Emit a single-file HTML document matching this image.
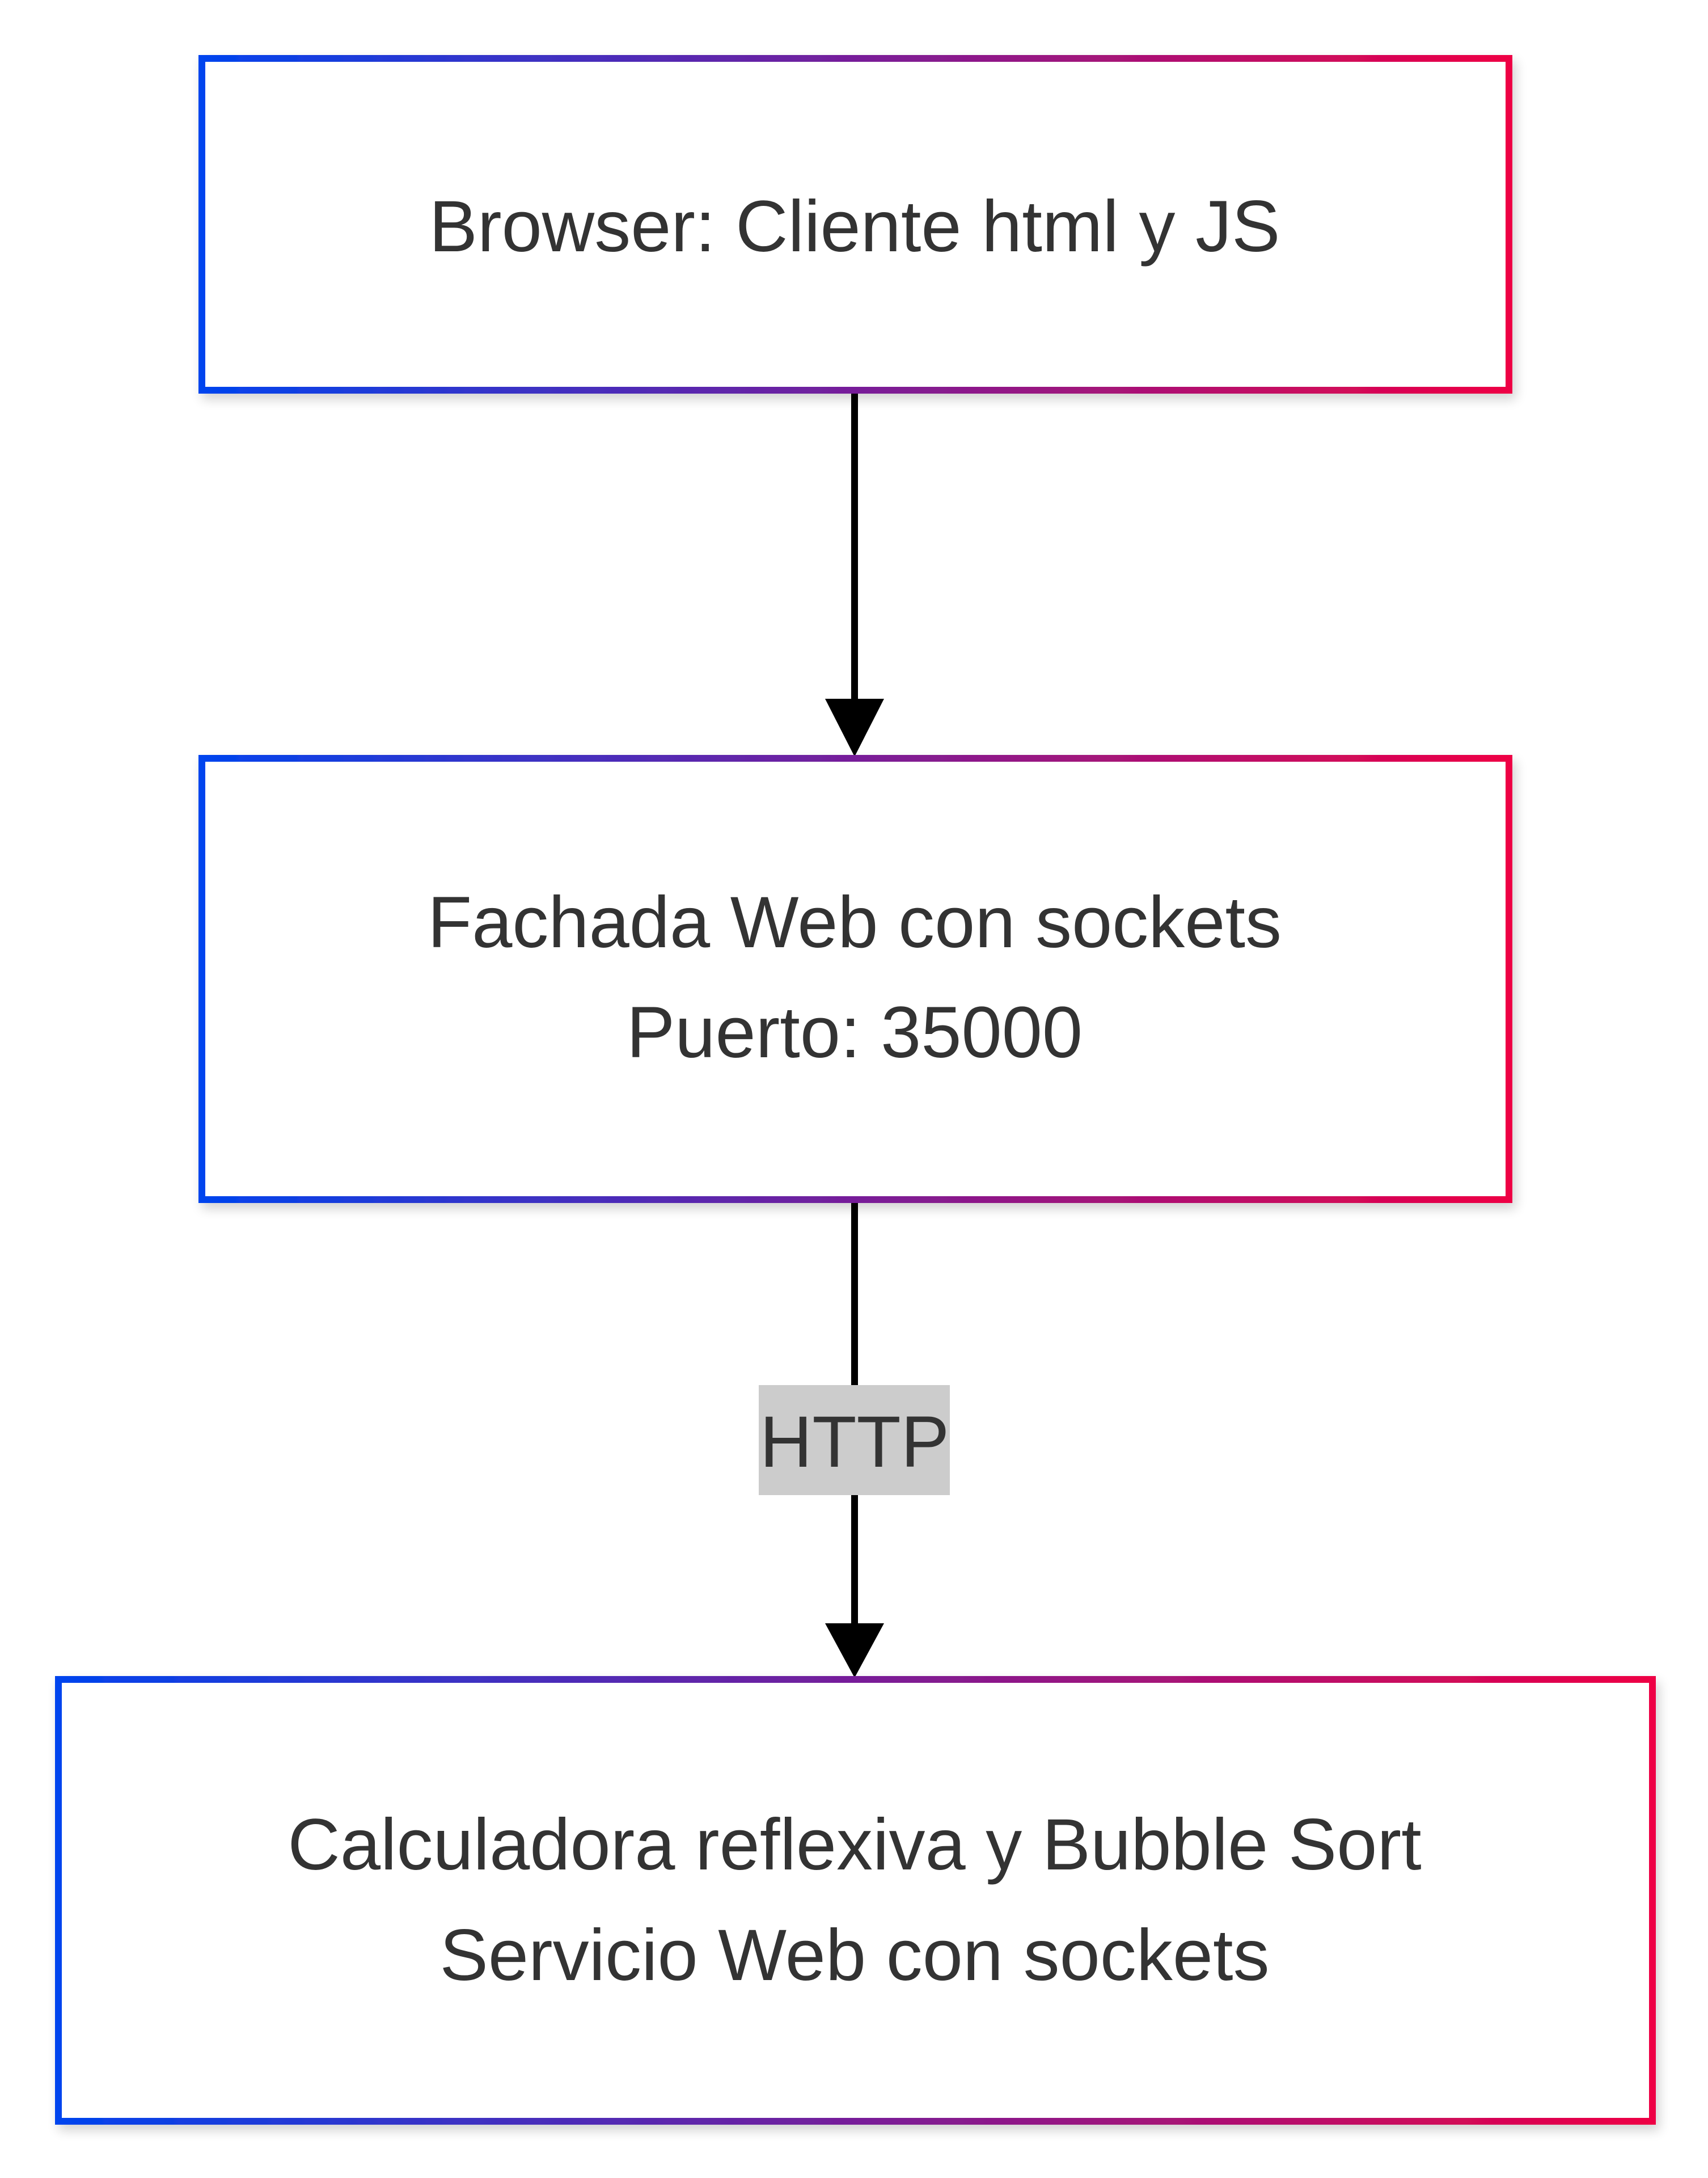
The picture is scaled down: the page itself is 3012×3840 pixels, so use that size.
<!DOCTYPE html>
<html><head><meta charset="utf-8"><style>
html,body{margin:0;padding:0;background:#fff;}
svg{display:block;}
text{font-family:"Liberation Sans",Arial,sans-serif;fill:#333;font-size:128px;}
</style></head><body>
<svg width="3012" height="3840" viewBox="0 0 3012 3840" xmlns="http://www.w3.org/2000/svg">
<defs>
<linearGradient id="g" x1="0" y1="0" x2="1" y2="0">
<stop offset="0" stop-color="#0044ee"/>
<stop offset="0.5" stop-color="#771e99"/>
<stop offset="1" stop-color="#ee0044"/>
</linearGradient>
<filter id="sh" x="-10%" y="-10%" width="120%" height="130%">
<feGaussianBlur in="SourceAlpha" stdDeviation="10"/>
<feOffset dx="6" dy="10"/>
<feComponentTransfer><feFuncA type="linear" slope="0.18"/></feComponentTransfer>
<feMerge><feMergeNode/><feMergeNode in="SourceGraphic"/></feMerge>
</filter>
</defs>
<rect x="0" y="0" width="3012" height="3840" fill="#fff"/>
<!-- connectors -->
<line x1="1507" y1="688" x2="1507" y2="1240" stroke="#000" stroke-width="12"/>
<polygon points="1455,1232 1559,1232 1507,1334" fill="#000"/>
<line x1="1507" y1="2115" x2="1507" y2="2870" stroke="#000" stroke-width="12"/>
<polygon points="1455,2862 1559,2862 1507,2958" fill="#000"/>
<rect x="1338" y="2442" width="337" height="194" fill="#cccccc"/>
<text x="1507" y="2586" text-anchor="middle">HTTP</text>
<!-- boxes -->
<rect x="356" y="103" width="2305" height="585" fill="#fff" stroke="url(#g)" stroke-width="12" filter="url(#sh)"/>
<text x="1507" y="443" text-anchor="middle">Browser: Cliente html y JS</text>
<rect x="356" y="1337" width="2305" height="778" fill="#fff" stroke="url(#g)" stroke-width="12" filter="url(#sh)"/>
<text x="1507" y="1670" text-anchor="middle">Fachada Web con sockets</text>
<text x="1507" y="1864" text-anchor="middle">Puerto: 35000</text>
<rect x="103" y="2961" width="2811" height="779" fill="#fff" stroke="url(#g)" stroke-width="12" filter="url(#sh)"/>
<text x="1507" y="3296" text-anchor="middle">Calculadora reflexiva y Bubble Sort</text>
<text x="1507" y="3491" text-anchor="middle">Servicio Web con sockets</text>
</svg>
</body></html>
